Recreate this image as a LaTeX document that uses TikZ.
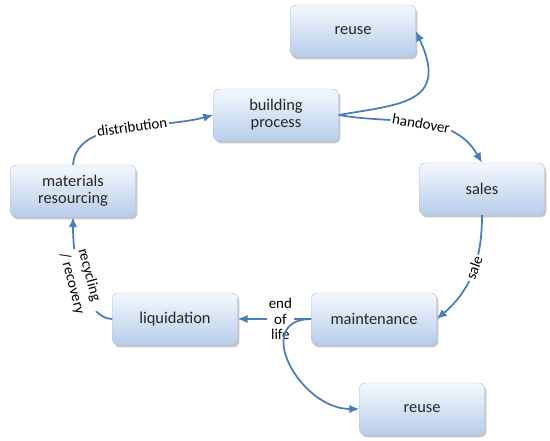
\documentclass[tikz,border=0pt]{standalone}
\usepackage{fontspec}
\setmainfont{Carlito}
\usetikzlibrary{arrows.meta,shadows}

\definecolor{flowblue}{HTML}{4A7EBB}
\definecolor{boxtop}{HTML}{F4F8FD}
\definecolor{boxbottom}{HTML}{B7CDEB}
\definecolor{boxline}{HTML}{AEC4E3}

\begin{document}
\begin{tikzpicture}[x=0.03cm, y=0.03cm, >={Latex[length=3mm,width=2.6mm]},
    box/.style={rounded corners=5pt, draw=boxline, top color=boxtop, bottom color=boxbottom,
        drop shadow={opacity=0.45, shadow xshift=1.5pt, shadow yshift=-2pt},
        minimum width=3.75cm, minimum height=1.56cm, align=center,
        font=\fontsize{14}{14.5}\selectfont, text=black!85},
    flow/.style={->, draw=flowblue, line width=1.5pt},
    lbl/.style={fill=white, inner sep=1.5pt, font=\fontsize{12.8}{13.5}\selectfont}]

    \useasboundingbox (0,0) rectangle (550,441);

    \node[box] (reuseA) at (353,410) {reuse};
    \node[box] (build) at (276,326) {building\\process};
    \node[box] (mat) at (73,250) {materials\\resourcing};
    \node[box] (sales) at (482,252) {sales};
    \node[box] (liq) at (175,122) {liquidation};
    \node[box] (maint) at (374,122) {maintenance};
    \node[box] (reuseB) at (422,32) {reuse};

    \draw[flow] (mat.north) to[out=85, in=195, out looseness=0.8] node[lbl, sloped, pos=0.55] {distribution} (build.west);
    \draw[flow] (build.east) to[out=10, in=-65, out looseness=1.4, in looseness=1.8] (reuseA.east);
    \draw[flow] (build.east) to[out=-10, in=120] node[lbl, sloped, pos=0.5] {handover} (sales.north);
    \draw[flow] (sales.south) to[out=-90, in=40] node[lbl, sloped, pos=0.45] {sale} (maint.east);
    \draw[flow] (maint.west) -- node[lbl, align=center, pos=0.42] {end\\of\\life} (liq.east);
    \draw[flow] (maint.west) to[out=180, in=180, looseness=1.5] (reuseB.west);
    \draw[flow] (liq.west) to[out=180, in=-90, out looseness=0.6, in looseness=1.2]
        node[lbl, rotate=-75, align=left, pos=0.55, font=\fontsize{12.8}{16}\selectfont] {recycling\\/ recovery} (mat.south);
\end{tikzpicture}
\end{document}
